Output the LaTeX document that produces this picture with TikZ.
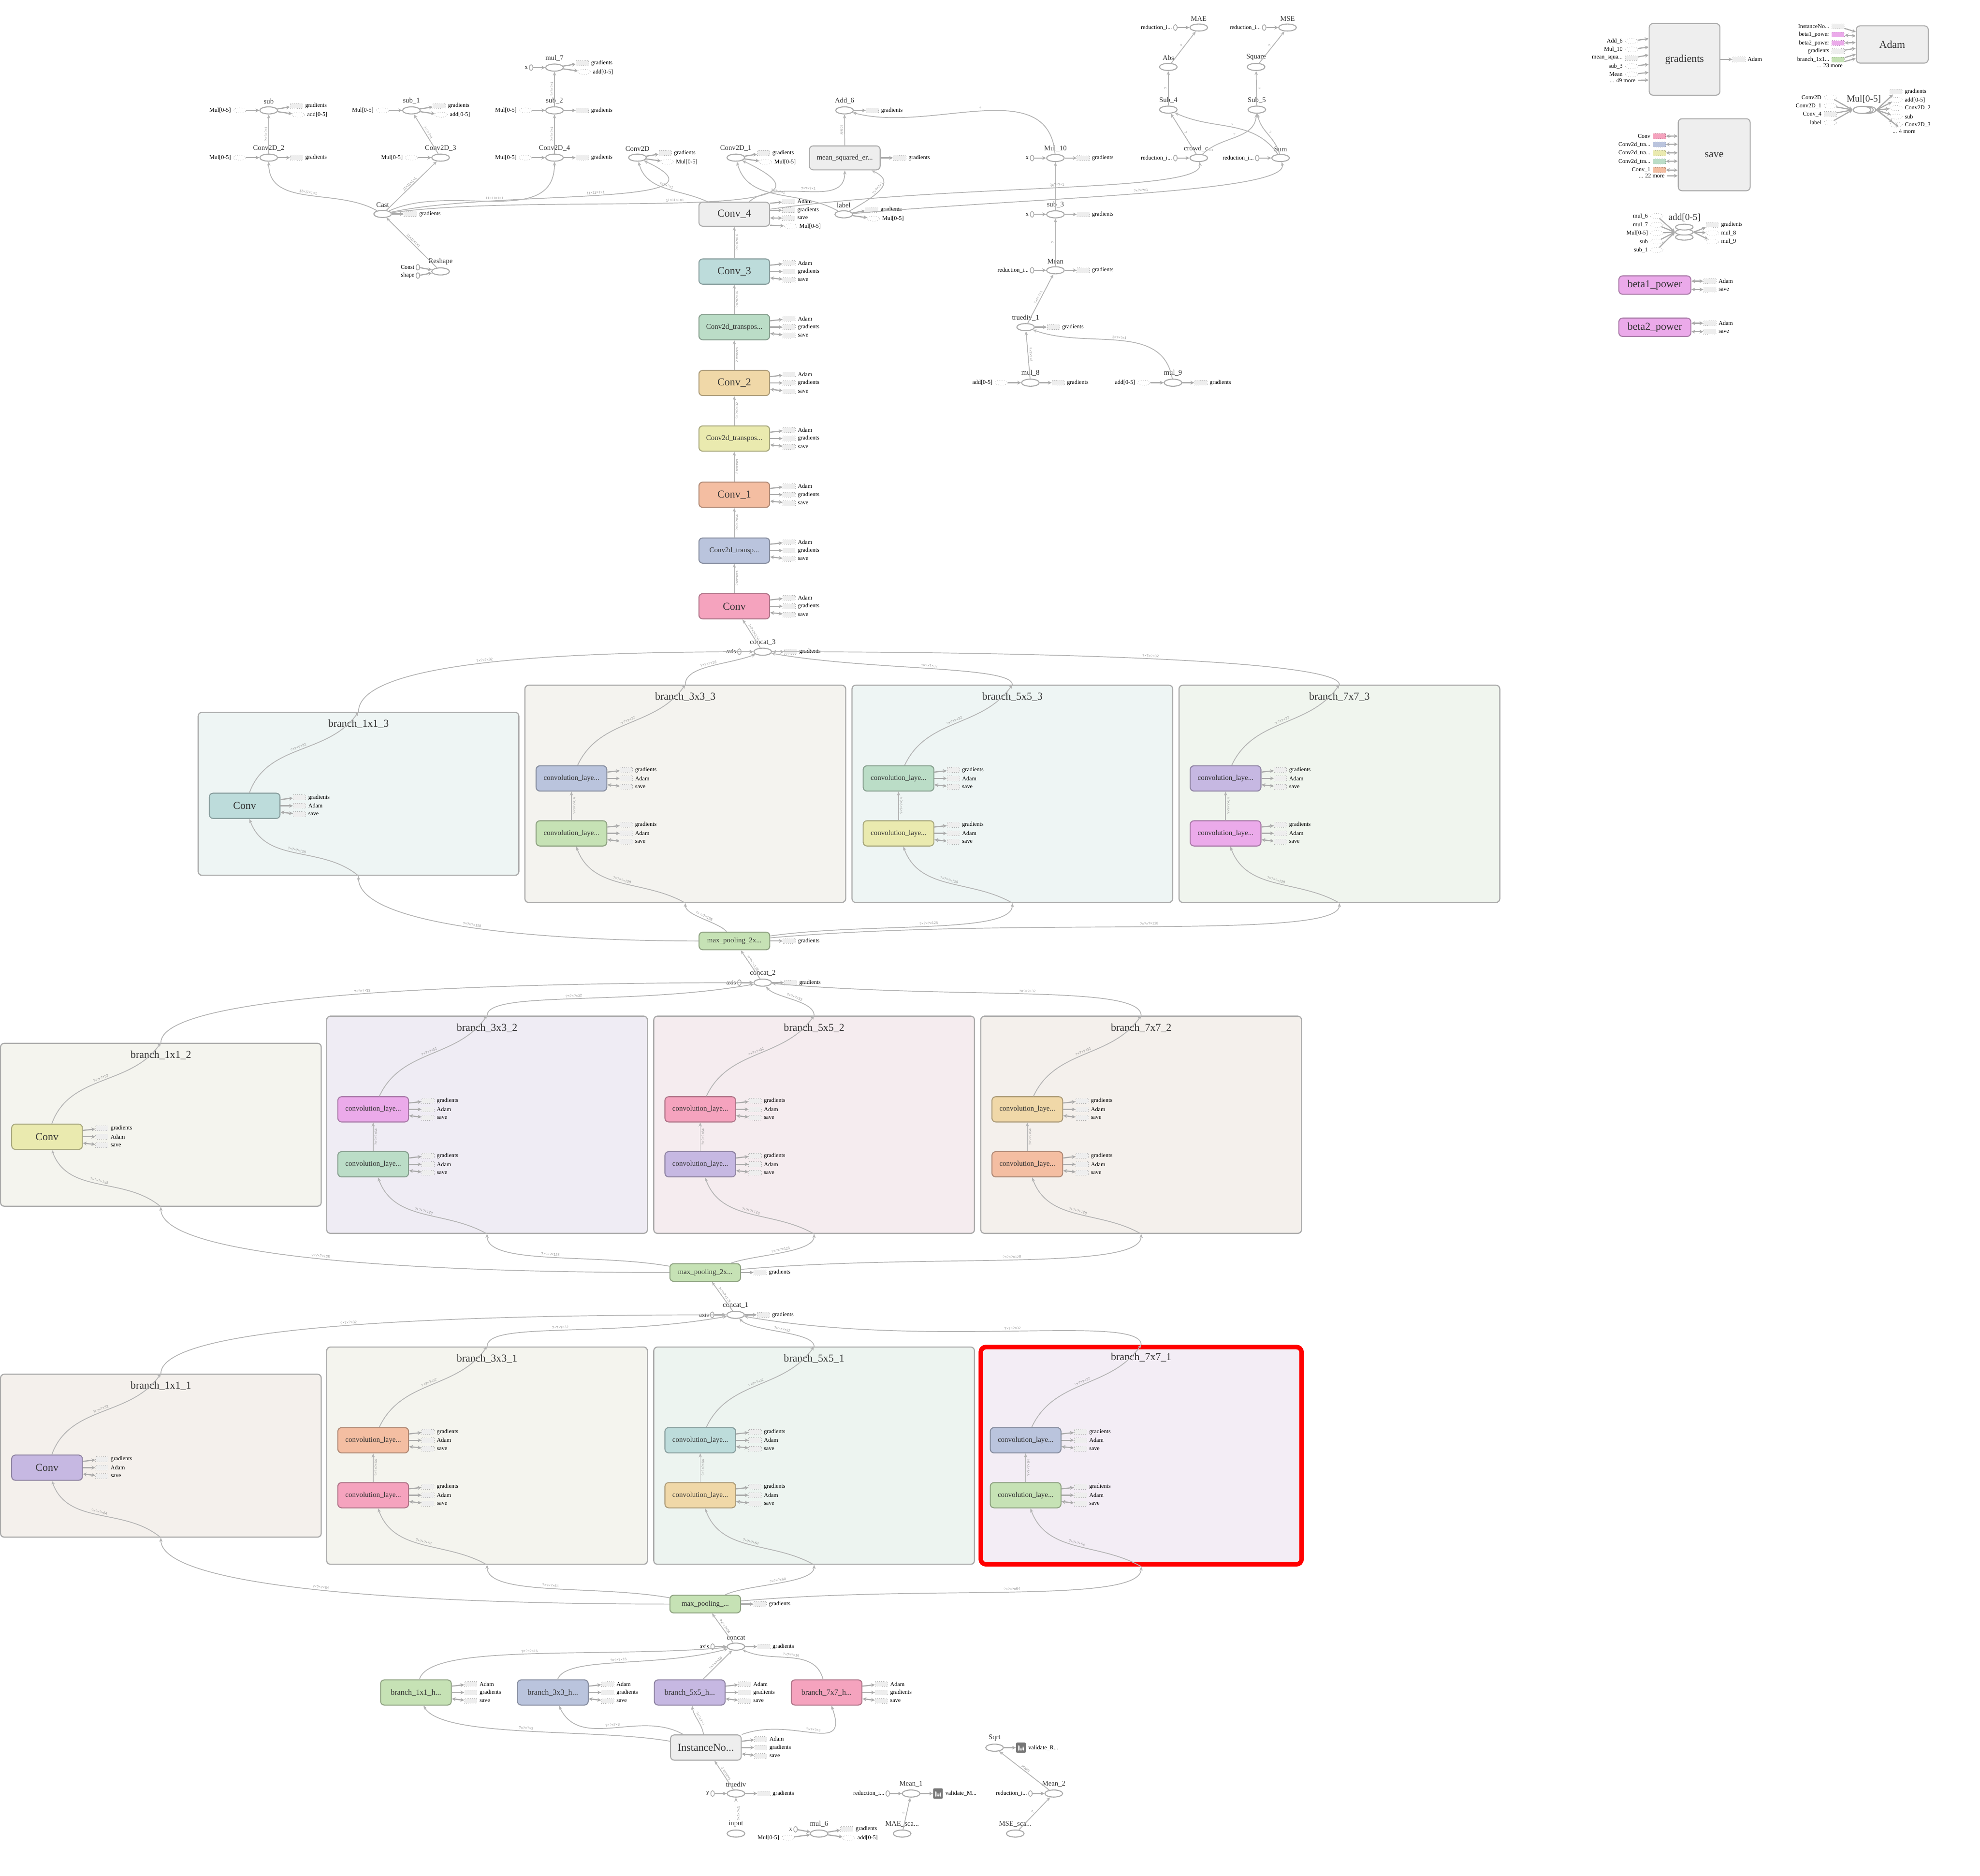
\documentclass[tikz,border=0pt]{standalone}
\usepackage{fontspec}
\setmainfont{Liberation Serif}
\newfontfamily\edgefont{Liberation Sans}
\usepackage{xcolor}
\usepackage{tikz}
\usetikzlibrary{calc,arrows.meta,positioning,shapes.geometric}
\definecolor{txtc}{HTML}{333333}
\definecolor{edgec}{HTML}{B4B4B4}
\definecolor{portc}{HTML}{AAAAAA}
\definecolor{opc}{HTML}{AAAAAA}
\definecolor{stubc}{HTML}{AAAAAA}
\definecolor{stubf}{HTML}{EEEEEE}
\definecolor{elc}{HTML}{999999}
\definecolor{blkc}{HTML}{AAAAAA}
\definecolor{sumc}{HTML}{777777}
\definecolor{grayc}{HTML}{EEEEEE}
\definecolor{tealc}{HTML}{BDDCDB}
\definecolor{mintc}{HTML}{BBDDC7}
\definecolor{tanc}{HTML}{F0D8A8}
\definecolor{yelc}{HTML}{EAEAAF}
\definecolor{salc}{HTML}{F4BEA2}
\definecolor{bluc}{HTML}{BAC4DD}
\definecolor{pinkc}{HTML}{F5A3BE}
\definecolor{grnc}{HTML}{C6E2B5}
\definecolor{purc}{HTML}{C6B8E2}
\definecolor{magc}{HTML}{EBAAEA}
\definecolor{tealt}{HTML}{EEF5F4}
\definecolor{warmt}{HTML}{F4F3EF}
\definecolor{greent}{HTML}{F0F5EE}
\definecolor{beiget}{HTML}{F4F4EE}
\definecolor{lavt}{HTML}{EFECF4}
\definecolor{pinkt}{HTML}{F5ECEF}
\definecolor{peacht}{HTML}{F4F0EC}
\definecolor{mintt}{HTML}{EDF4F0}
\definecolor{lilact}{HTML}{F3EDF5}
\newlength{\tbu}\setlength{\tbu}{0.3185mm}
\newcommand{\fbig}{\fontsize{7.6pt}{8pt}\selectfont}
\newcommand{\fmid}{\fontsize{5.2pt}{6pt}\selectfont}
\newcommand{\fhb}{\fontsize{5.6pt}{6pt}\selectfont}
\newcommand{\fop}{\fontsize{5.1pt}{6pt}\selectfont}
\newcommand{\fsm}{\fontsize{4.2pt}{5pt}\selectfont}
\newcommand{\fgrp}{\fontsize{6.7pt}{7pt}\selectfont}
\newcommand{\fedge}{\edgefont\fontsize{2.6pt}{3pt}\selectfont}
\tikzset{
  ed/.style={draw=edgec,line width=0.65\tbu,-{Stealth[length=1.02mm,width=0.83mm]}},
  ped/.style={draw=portc,line width=0.9\tbu,-{Stealth[length=0.96mm,width=0.96mm]}},
  bped/.style={draw=portc,line width=0.9\tbu,{Stealth[length=0.96mm,width=0.96mm]}-{Stealth[length=0.96mm,width=0.96mm]}},
  dd/.style 2 args={out distance=#1\tbu,in distance=#2\tbu},
  el/.style={font=\fedge,text=elc,sloped,inner sep=0.8\tbu,above},
  op/.style={ellipse,draw=opc,line width=0.8\tbu,fill=white,minimum width=14\tbu,minimum height=5.6\tbu,inner sep=0pt},
  cst/.style={ellipse,draw=opc,line width=0.6\tbu,fill=white,minimum width=2.8\tbu,minimum height=4.6\tbu,inner sep=0pt},
  oplab/.style={font=\fop,text=txtc,inner sep=0.4\tbu,label distance=1.4\tbu},
  plab/.style={font=\fsm,text=black,inner sep=1.6\tbu},
  stub/.style={draw=stubc,densely dotted,fill=stubf,line width=0.35\tbu,minimum width=10\tbu,minimum height=4\tbu,inner sep=0pt},
  cstub/.style={stub,fill=#1,draw=#1!70!black},
  estub/.style={ellipse,draw=stubc,densely dotted,fill=white,line width=0.35\tbu,minimum width=10\tbu,minimum height=4\tbu,inner sep=0pt},
  opbox/.style={draw=#1!72!black,fill=#1,line width=0.8\tbu,rounded corners=3\tbu,minimum width=56\tbu,minimum height=20\tbu,inner sep=0pt,font=\fbig,text=txtc},
  blk/.style={draw=blkc,fill=#1,line width=0.9\tbu,rounded corners=3\tbu,minimum width=254\tbu,inner sep=0pt},
  btitle/.style={font=\fbig,text=txtc,inner sep=0pt},
  sumic/.style={fill=sumc,rounded corners=1\tbu,minimum width=7.7\tbu,minimum height=8.2\tbu,inner sep=0pt,
    path picture={\fill[white] ($(path picture bounding box.south west)+(1.7,-1.6)$) rectangle +(1,-4.4);
      \fill[white] ($(path picture bounding box.south west)+(3.4,-1.6)$) rectangle +(1,-2.4);
      \fill[white] ($(path picture bounding box.south west)+(5.1,-1.6)$) rectangle +(1,-3.3);}}
}
% op with its name above
\newcommand{\opn}[4]{\node[op,label={[oplab]above:{#4}}] (#1) at (#2,#3) {};}
% three ports right of a box
\newcommand{\pthree}[4]{%
  \node[stub,label={[plab]right:{#2}}] (#1-p1) at ($(#1.east)+(15,-6.7)$) {};
  \node[stub,label={[plab]right:{#3}}] (#1-p2) at ($(#1.east)+(15,0)$) {};
  \node[stub,label={[plab]right:{#4}}] (#1-p3) at ($(#1.east)+(15,6.7)$) {};
  \draw[ped] (#1.10) -- (#1-p1);
  \draw[ped] (#1.east) -- (#1-p2);
  \draw[bped] (#1.-10) -- (#1-p3);}
\newcommand{\bout}[2]{%
  \node[stub,label={[plab]right:{#2}}] (#1-g) at ($(#1.east)+(15,0)$) {};
  \draw[ped] (#1.east) -- (#1-g);}
\newcommand{\gout}[2]{%
  \node[stub,label={[plab]right:{#2}}] (#1-g) at ($(#1)+(22,0)$) {};
  \draw[ped] (#1) -- (#1-g);}
\newcommand{\gtwo}[3]{%
  \node[stub,label={[plab]right:{#2}}] (#1-g) at ($(#1)+(22,-3.6)$) {};
  \node[estub,label={[plab]right:{#3}}] (#1-a) at ($(#1)+(23.5,3.4)$) {};
  \draw[ped] (#1) -- (#1-g);
  \draw[ped] (#1) -- (#1-a);}
\newcommand{\cin}[2]{%
  \node[cst,label={[plab,inner sep=0.8\tbu]left:{#2}}] (#1-c) at ($(#1)+(-18.5,0)$) {};
  \draw[ped] (#1-c) -- (#1);}
\newcommand{\din}[2]{%
  \node[estub,label={[plab]left:{#2}}] (#1-d) at ($(#1)+(-23,0)$) {};
  \draw[ped] (#1-d) -- (#1);}
\newcommand{\inp}[8]{%
  \node[#1,label={[plab]left:{#5}}] (#2) at (#3,#4) {};
  \draw[#8] (#2) -- (#6.#7);}
\newcommand{\outp}[6]{%
  \node[#1,label={[plab]right:{#5}}] (#2) at (#3,#4) {};
  \draw[ped] (#6) -- (#2);}
% branch blocks
\newcommand{\tallblk}[5]{%
  \node[blk=#5,minimum height=172\tbu] (#1) at (#3,#4) {};
  \node[btitle] (#1-t) at ($(#1.north)+(0,9.8)$) {#2};}
\newcommand{\shortblk}[5]{%
  \node[blk=#5,minimum height=129\tbu] (#1) at (#3,#4) {};
  \node[btitle] (#1-t) at ($(#1.north)+(0,9.8)$) {#2};}
\newcommand{\twoconv}[4]{%
  \node[opbox=#2,font=\fmid] (#1-u) at ($(#1.west)+(37.3,-12.2)$) {convolution\_laye...};
  \node[opbox=#3,font=\fmid] (#1-l) at ($(#1.west)+(37.3,31.3)$) {convolution\_laye...};
  \pthree{#1-u}{gradients}{Adam}{save}
  \pthree{#1-l}{gradients}{Adam}{save}
  \draw[ed] (#1-l) -- node[el,below]{?×?×?×64} (#1-u);
  \draw[ed] (#1.south) to[out=150,in=-70] node[el]{#4} (#1-l);
  \draw[ed] (#1-u) to[out=65,in=-125] node[el]{?×?×?×32} (#1.north);}
\newcommand{\oneconv}[3]{%
  \node[opbox=#2] (#1-c) at ($(#1.west)+(37.3,9.5)$) {Conv};
  \pthree{#1-c}{gradients}{Adam}{save}
  \draw[ed] (#1.south) to[out=140,in=-70] node[el]{#3} (#1-c);
  \draw[ed] (#1-c) to[out=70,in=-125] node[el]{?×?×?×32} (#1.north);}

\begin{document}
\begin{tikzpicture}[x=0.3185mm,y=-0.3185mm]
\fill[white] (0,0) rectangle (1568,1485);
\useasboundingbox (0,0) rectangle (1568,1485);

% blocks, top row
\shortblk{b113}{branch\_1x1\_3}{283.9}{628.5}{tealt}
\tallblk{b333}{branch\_3x3\_3}{542.7}{628.5}{warmt}
\tallblk{b553}{branch\_5x5\_3}{801.7}{628.5}{tealt}
\tallblk{b773}{branch\_7x7\_3}{1060.7}{628.5}{greent}
\oneconv{b113}{tealc}{?×?×?×128}
\twoconv{b333}{bluc}{grnc}{?×?×?×128}
\twoconv{b553}{mintc}{yelc}{?×?×?×128}
\twoconv{b773}{purc}{magc}{?×?×?×128}
% blocks, middle row
\shortblk{b112}{branch\_1x1\_2}{127.4}{890.5}{beiget}
\tallblk{b332}{branch\_3x3\_2}{385.7}{890.5}{lavt}
\tallblk{b552}{branch\_5x5\_2}{644.7}{890.5}{pinkt}
\tallblk{b772}{branch\_7x7\_2}{903.7}{890.5}{peacht}
\oneconv{b112}{yelc}{?×?×?×128}
\twoconv{b332}{magc}{mintc}{?×?×?×128}
\twoconv{b552}{pinkc}{purc}{?×?×?×128}
\twoconv{b772}{tanc}{salc}{?×?×?×128}
% blocks, bottom row
\shortblk{b111}{branch\_1x1\_1}{127.4}{1152.5}{peacht}
\tallblk{b331}{branch\_3x3\_1}{385.7}{1152.5}{beiget}
\tallblk{b551}{branch\_5x5\_1}{644.7}{1152.5}{mintt}
\node[blk=lilact,minimum height=172\tbu,draw=red,line width=3.6\tbu,rounded corners=4\tbu] (b771) at (903.7,1152.5) {};
\node[btitle] (b771-t) at ($(b771.north)+(0,9.8)$) {branch\_7x7\_1};
\oneconv{b111}{purc}{?×?×?×64}
\twoconv{b331}{salc}{pinkc}{?×?×?×64}
\twoconv{b551}{tealc}{tanc}{?×?×?×64}
\twoconv{b771}{bluc}{grnc}{?×?×?×64}

% concat / pooling spine
\opn{cc3}{604}{516}{concat\_3} \cin{cc3}{axis} \gout{cc3}{gradients}
\node[opbox=grnc,font=\fmid,minimum height=14\tbu] (mp3) at (581.6,745) {max\_pooling\_2x...};
\bout{mp3}{gradients}
\opn{cc2}{604}{778}{concat\_2} \cin{cc2}{axis} \gout{cc2}{gradients}
\node[opbox=grnc,font=\fmid,minimum height=14\tbu] (mp2) at (558.5,1007.5) {max\_pooling\_2x...};
\bout{mp2}{gradients}
\opn{cc1}{582.5}{1041}{concat\_1} \cin{cc1}{axis} \gout{cc1}{gradients}
\node[opbox=grnc,font=\fmid,minimum height=14\tbu] (mp1) at (558.5,1270) {max\_pooling\_...};
\bout{mp1}{gradients}
\opn{cc0}{582.8}{1303.7}{concat} \cin{cc0}{axis} \gout{cc0}{gradients}

\draw[ed] (mp3) to[out=180,in=-90,dd={120}{40}] node[el]{?×?×?×128} (b113.south);
\draw[ed] (mp3) to[out=130,in=-90,dd={10}{10}] node[el]{?×?×?×128} (b333.south);
\draw[ed] (mp3) to[out=8,in=-90,dd={80}{25}] node[el]{?×?×?×128} (b553.south);
\draw[ed] (mp3) to[out=5,in=-90,dd={200}{30}] node[el]{?×?×?×128} (b773.south);
\draw[ed] (b113.north) to[out=90,in=180,dd={40}{150}] node[el]{?×?×?×32} (cc3);
\draw[ed] (b333.north) to[out=90,in=200,dd={15}{25}] node[el]{?×?×?×32} (cc3);
\draw[ed] (b553.north) to[out=90,in=-10,dd={15}{80}] node[el]{?×?×?×32} (cc3);
\draw[ed] (b773.north) to[out=90,in=0,dd={20}{200}] node[el]{?×?×?×32} (cc3);
\draw[ed] (cc2) -- node[el]{?×?×?×128} (mp3);
\draw[ed] (mp2) to[out=180,in=-90,dd={200}{40}] node[el]{?×?×?×128} (b112.south);
\draw[ed] (mp2) to[out=170,in=-90,dd={60}{25}] node[el]{?×?×?×128} (b332.south);
\draw[ed] (mp2) to[out=20,in=-90,dd={20}{15}] node[el]{?×?×?×128} (b552.south);
\draw[ed] (mp2) to[out=5,in=-90,dd={150}{30}] node[el]{?×?×?×128} (b772.south);
\draw[ed] (b112.north) to[out=90,in=180,dd={40}{200}] node[el]{?×?×?×32} (cc2);
\draw[ed] (b332.north) to[out=90,in=190,dd={20}{100}] node[el]{?×?×?×32} (cc2);
\draw[ed] (b552.north) to[out=90,in=-50,dd={12}{12}] node[el]{?×?×?×32} (cc2);
\draw[ed] (b772.north) to[out=90,in=-5,dd={25}{150}] node[el]{?×?×?×32} (cc2);
\draw[ed] (cc1) -- node[el]{?×?×?×128} (mp2);
\draw[ed] (mp1) to[out=180,in=-90,dd={200}{40}] node[el]{?×?×?×64} (b111.south);
\draw[ed] (mp1) to[out=170,in=-90,dd={60}{25}] node[el]{?×?×?×64} (b331.south);
\draw[ed] (mp1) to[out=25,in=-90,dd={20}{15}] node[el]{?×?×?×64} (b551.south);
\draw[ed] (mp1) to[out=5,in=-90,dd={150}{30}] node[el]{?×?×?×64} (b771.south);
\draw[ed] (b111.north) to[out=90,in=180,dd={40}{200}] node[el]{?×?×?×32} (cc1);
\draw[ed] (b331.north) to[out=90,in=190,dd={20}{100}] node[el]{?×?×?×32} (cc1);
\draw[ed] (b551.north) to[out=90,in=-45,dd={12}{15}] node[el]{?×?×?×32} (cc1);
\draw[ed] (b771.north) to[out=90,in=-10,dd={25}{150}] node[el]{?×?×?×32} (cc1);
\draw[ed] (cc0) -- node[el]{?×?×?×64} (mp1);

% decoder column
\node[opbox=pinkc] (conv0) at (581.5,480) {Conv};
\node[opbox=bluc,font=\fmid] (dcv1) at (581.5,435.9) {Conv2d\_transp...};
\node[opbox=salc] (conv1) at (581.5,391.7) {Conv\_1};
\node[opbox=yelc,font=\fmid] (dcv2) at (581.5,347.2) {Conv2d\_transpos...};
\node[opbox=tanc] (conv2) at (581.5,303.2) {Conv\_2};
\node[opbox=mintc,font=\fmid] (dcv3) at (581.5,259) {Conv2d\_transpos...};
\node[opbox=tealc] (conv3) at (581.5,215) {Conv\_3};
\node[opbox=grayc,minimum height=19\tbu] (conv4) at (581.5,169.6) {Conv\_4};
\pthree{conv0}{Adam}{gradients}{save}
\pthree{dcv1}{Adam}{gradients}{save}
\pthree{conv1}{Adam}{gradients}{save}
\pthree{dcv2}{Adam}{gradients}{save}
\pthree{conv2}{Adam}{gradients}{save}
\pthree{dcv3}{Adam}{gradients}{save}
\pthree{conv3}{Adam}{gradients}{save}
\node[stub,label={[plab]right:Adam}] (conv4-p1) at (624.5,159.5) {};
\node[stub,label={[plab]right:gradients}] (conv4-p2) at (624.5,166.4) {};
\node[stub,label={[plab]right:save}] (conv4-p3) at (624.5,172.7) {};
\node[estub,label={[plab]right:{Mul[0-5]}}] (conv4-p4) at (626,179.1) {};
\draw[ped] (conv4.17) -- (conv4-p1);
\draw[ped] (conv4.6) -- (conv4-p2);
\draw[bped] (conv4.-6) -- (conv4-p3);
\draw[ped] (conv4.-17) -- (conv4-p4);
\draw[ed] (cc3) -- node[el]{?×?×?×128} (conv0);
\draw[ed] (conv0) -- node[el,below]{2 tensors} (dcv1);
\draw[ed] (dcv1) -- node[el,below]{?×?×?×64} (conv1);
\draw[ed] (conv1) -- node[el,below]{2 tensors} (dcv2);
\draw[ed] (dcv2) -- node[el,below]{?×?×?×32} (conv2);
\draw[ed] (conv2) -- node[el,below]{2 tensors} (dcv3);
\draw[ed] (dcv3) -- node[el,below]{?×?×?×16} (conv3);
\draw[ed] (conv3) -- node[el,below]{?×?×?×16} (conv4);

% density-map loss ops
\opn{sub0}{212.8}{87.4}{sub} \din{sub0}{Mul[0-5]} \gtwo{sub0}{gradients}{add[0-5]}
\opn{sub1}{325.8}{87.4}{sub\_1} \din{sub1}{Mul[0-5]} \gtwo{sub1}{gradients}{add[0-5]}
\opn{sub2}{439.1}{87.4}{sub\_2} \din{sub2}{Mul[0-5]} \gout{sub2}{gradients}
\opn{mul7}{439.1}{53.5}{mul\_7} \cin{mul7}{x} \gtwo{mul7}{gradients}{add[0-5]}
\opn{cv2d2}{212.8}{124.8}{Conv2D\_2} \din{cv2d2}{Mul[0-5]} \gout{cv2d2}{gradients}
\opn{cv2d3}{348.9}{124.8}{Conv2D\_3} \din{cv2d3}{Mul[0-5]}
\opn{cv2d4}{439.1}{124.8}{Conv2D\_4} \din{cv2d4}{Mul[0-5]} \gout{cv2d4}{gradients}
\opn{cv2d0}{504.8}{124.8}{Conv2D} \gtwo{cv2d0}{gradients}{Mul[0-5]}
\opn{cv2d1}{582.7}{124.8}{Conv2D\_1} \gtwo{cv2d1}{gradients}{Mul[0-5]}
\node[opbox=grayc,font=\fmid,minimum height=19\tbu] (msq) at (669,125) {mean\_squared\_er...};
\bout{msq}{gradients}
\opn{add6}{668.8}{87.4}{Add\_6} \gout{add6}{gradients}
\opn{cast}{303}{169.4}{Cast} \gout{cast}{gradients}
\opn{rshp}{348.9}{214.9}{Reshape}
\node[cst,label={[plab,inner sep=0.8\tbu]left:Const}] (rshp-c1) at (330.9,211.6) {};
\node[cst,label={[plab,inner sep=0.8\tbu]left:shape}] (rshp-c2) at (330.9,218.2) {};
\draw[ped] (rshp-c1) -- (rshp);
\draw[ped] (rshp-c2) -- (rshp);
\opn{lbl}{668.2}{169.7}{label} \gtwo{lbl}{gradients}{Mul[0-5]}
\opn{mul10}{835.8}{125.1}{Mul\_10} \cin{mul10}{x} \gout{mul10}{gradients}
\opn{sub3}{835.8}{169.7}{sub\_3} \cin{sub3}{x} \gout{sub3}{gradients}
\opn{mean0}{835.8}{214}{Mean} \cin{mean0}{reduction\_i...} \gout{mean0}{gradients}
\opn{tdiv1}{812.2}{259}{truediv\_1} \gout{tdiv1}{gradients}
\opn{mul8}{816}{303}{mul\_8} \din{mul8}{add[0-5]} \gout{mul8}{gradients}
\opn{mul9}{928.9}{303}{mul\_9} \din{mul9}{add[0-5]} \gout{mul9}{gradients}
\opn{mae}{949.3}{21.8}{MAE} \cin{mae}{reduction\_i...}
\opn{mset}{1019.6}{21.8}{MSE} \cin{mset}{reduction\_i...}
\opn{abs}{925.2}{53}{Abs}
\opn{sqr}{994.7}{53}{Square}
\opn{sub4}{925.2}{86.8}{Sub\_4}
\opn{sub5}{995.3}{86.8}{Sub\_5}
\opn{crowd}{949.3}{125.1}{crowd\_c...} \cin{crowd}{reduction\_i...}
\opn{sum}{1014.1}{125.1}{Sum} \cin{sum}{reduction\_i...}

\draw[ed] (cv2d2) -- node[el]{?×?×?×1} (sub0);
\draw[ed] (cv2d3) -- node[el]{?×?×?×1} (sub1);
\draw[ed] (cv2d4) -- node[el]{?×?×?×1} (sub2);
\draw[ed] (sub2) -- node[el]{?×?×?×1} (mul7);
\draw[ed] (cast) to[out=150,in=-90] node[el]{11×11×1×1} (cv2d2);
\draw[ed] (cast) -- node[el]{11×11×1×1} (cv2d3);
\draw[ed] (cast) to[out=25,in=-90] node[el]{11×11×1×1} (cv2d4);
\draw[ed] (cast) to[out=12,in=-25,looseness=1.1] node[el]{11×11×1×1} (cv2d0);
\draw[ed] (cast) to[out=8,in=-25,looseness=1.1] node[el]{11×11×1×1} (cv2d1);
\draw[ed] (rshp) -- node[el]{11×11×1×1} (cast);
\draw[ed] (conv4) to[out=155,in=-75] node[el]{?×?×?×1} (cv2d0);
\draw[ed] (lbl) to[out=150,in=-75] node[el]{?×?×?×1} (cv2d1);
\draw[ed] (conv4) to[out=40,in=-90] node[el]{?×?×?×1} (msq);
\draw[ed] (lbl) to[out=30,in=-25,looseness=1.6] node[el]{?×?×?×1} (msq);
\draw[ed] (msq) -- node[el,below]{scalar} (add6);
\draw[ed] (mul10) to[out=95,in=-15] node[el]{?} (add6);
\draw[ed] (sub3) -- node[el]{?} (mul10);
\draw[ed] (mean0) -- node[el]{?} (sub3);
\draw[ed] (tdiv1) -- node[el]{?×?×?×1} (mean0);
\draw[ed] (mul8) to[out=95,in=-85] node[el]{?×?×?×1} (tdiv1);
\draw[ed] (mul9) to[out=100,in=-20] node[el]{1×?×?×1} (tdiv1);
\draw[ed] (conv4) to[out=8,in=-80,dd={150}{25}] node[el]{?×?×?×1} (crowd);
\draw[ed] (lbl) to[out=5,in=-75,dd={150}{25}] node[el]{?×?×?×1} (sum);
\draw[ed] (crowd) -- node[el]{?} (sub4);
\draw[ed] (sum) to[out=125,in=-25] node[el]{?} (sub4);
\draw[ed] (crowd) to[out=45,in=-95] node[el]{?} (sub5);
\draw[ed] (sum) to[out=105,in=-80] node[el]{?} (sub5);
\draw[ed] (sub4) -- node[el]{?} (abs);
\draw[ed] (abs) -- node[el]{?} (mae);
\draw[ed] (sub5) -- node[el]{?} (sqr);
\draw[ed] (sqr) -- node[el]{?} (mset);

% input side
\node[opbox=grnc,font=\fhb] (bh1) at (329.4,1340) {branch\_1x1\_h...};
\node[opbox=bluc,font=\fhb] (bh3) at (437.8,1340) {branch\_3x3\_h...};
\node[opbox=purc,font=\fhb] (bh5) at (546.2,1340) {branch\_5x5\_h...};
\node[opbox=pinkc,font=\fhb] (bh7) at (654.6,1340) {branch\_7x7\_h...};
\pthree{bh1}{Adam}{gradients}{save}
\pthree{bh3}{Adam}{gradients}{save}
\pthree{bh5}{Adam}{gradients}{save}
\pthree{bh7}{Adam}{gradients}{save}
\node[opbox=grayc] (inorm) at (559,1383.6) {InstanceNo...};
\pthree{inorm}{Adam}{gradients}{save}
\opn{tdiv0}{582.8}{1420}{truediv} \cin{tdiv0}{y} \gout{tdiv0}{gradients}
\opn{inp0}{582.8}{1451.7}{input}
\opn{mul6}{648.6}{1451.7}{mul\_6} \gtwo{mul6}{gradients}{add[0-5]}
\node[cst,label={[plab,inner sep=0.8\tbu]left:x}] (mul6-c) at (630,1448.3) {};
\node[estub,label={[plab]left:{Mul[0-5]}}] (mul6-d) at (624,1455) {};
\draw[ped] (mul6-c) -- (mul6);
\draw[ped] (mul6-d) -- (mul6);
\opn{mean1}{721.5}{1420}{Mean\_1} \cin{mean1}{reduction\_i...}
\node[sumic,label={[plab]right:validate\_M...}] (mean1-s) at (742.8,1420) {};
\draw[ped] (mean1) -- (mean1-s);
\opn{maesc}{714.4}{1451.7}{MAE\_sca...}
\opn{sqrt}{787.6}{1383.7}{Sqrt}
\node[sumic,label={[plab]right:validate\_R...}] (sqrt-s) at (808.5,1383.7) {};
\draw[ped] (sqrt) -- (sqrt-s);
\opn{mean2}{834.5}{1420}{Mean\_2} \cin{mean2}{reduction\_i...}
\opn{msesc}{804}{1451.7}{MSE\_sca...}

\draw[ed] (inorm) to[out=170,in=-60,dd={60}{30}] node[el]{?×?×?×3} (bh1);
\draw[ed] (inorm) to[out=150,in=-65] node[el]{?×?×?×3} (bh3);
\draw[ed] (inorm) to[out=100,in=-80] node[el]{?×?×?×3} (bh5);
\draw[ed] (inorm) to[out=20,in=-70,looseness=1.5] node[el]{?×?×?×3} (bh7);
\draw[ed] (bh1) to[out=75,in=185,dd={30}{100}] node[el]{?×?×?×16} (cc0);
\draw[ed] (bh3) to[out=70,in=195,dd={20}{60}] node[el]{?×?×?×16} (cc0);
\draw[ed] (bh5) -- node[el]{?×?×?×16} (cc0);
\draw[ed] (bh7) to[out=105,in=-25] node[el]{?×?×?×16} (cc0);
\draw[ed] (tdiv0) -- node[el]{3 tensors} (inorm);
\draw[ed] (inp0) -- node[el,below]{?×?×?×3} (tdiv0);
\draw[ed] (maesc) -- node[el]{?} (mean1);
\draw[ed] (msesc) -- node[el]{?} (mean2);
\draw[ed] (mean2) -- node[el]{scalar} (sqrt);

% side panel: gradients, save, Adam
\node[opbox=grayc,minimum height=56.7\tbu] (gbox) at (1334,47) {gradients};
\inp{estub}{g1}{1292}{32.5}{Add\_6}{gbox}{150}{ped}
\inp{estub}{g2}{1292}{39.1}{Mul\_10}{gbox}{161}{ped}
\inp{stub}{g3}{1292}{46}{mean\_squa...}{gbox}{173}{ped}
\inp{estub}{g4}{1292}{52.4}{sub\_3}{gbox}{188}{ped}
\inp{estub}{g5}{1292}{58.9}{Mean}{gbox}{200}{ped}
\node[plab,anchor=east] (g6) at (1297,63.8) {... 49 more};
\draw[ped] (g6) -- (gbox.210);
\node[stub,label={[plab]right:Adam}] (g7) at (1377,47) {};
\draw[ped] (gbox) -- (g7);

\node[opbox=grayc,minimum width=57\tbu,minimum height=57\tbu] (sbox) at (1357.5,122.5) {save};
\inp{cstub=pinkc}{s1}{1314}{107.8}{Conv}{sbox}{153}{bped}
\inp{cstub=bluc}{s2}{1314}{114.4}{Conv2d\_tra...}{sbox}{164}{bped}
\inp{cstub=yelc}{s3}{1314}{121.1}{Conv2d\_tra...}{sbox}{177}{bped}
\inp{cstub=mintc}{s4}{1314}{127.8}{Conv2d\_tra...}{sbox}{190}{bped}
\inp{cstub=salc}{s5}{1314}{134.5}{Conv\_1}{sbox}{203}{bped}
\node[plab,anchor=east] (s6) at (1320,139.2) {... 22 more};
\draw[ped] (s6) -- (sbox.210);

\node[opbox=grayc,minimum width=57\tbu,minimum height=29.5\tbu] (abox) at (1498.5,35.2) {Adam};
\inp{stub}{a1}{1455.6}{20.9}{InstanceNo...}{abox}{161}{ped}
\inp{cstub=magc}{a2}{1455.6}{27.4}{beta1\_power}{abox}{167}{bped}
\inp{cstub=magc}{a3}{1455.6}{34.1}{beta2\_power}{abox}{177}{bped}
\inp{stub}{a4}{1455.6}{40.6}{gradients}{abox}{186}{ped}
\inp{cstub=grnc}{a5}{1455.6}{47.2}{branch\_1x1...}{abox}{195}{ped}
\node[plab,anchor=east] (a6) at (1461,51.9) {... 23 more};
\draw[ped] (a6) -- (abox.201);

% grouped Mul ops
\node[op] (mulg-b2) at (1478.6,87) {};
\node[op] (mulg-b1) at (1476.5,87) {};
\node[op] (mulg) at (1474.5,87) {};
\node[font=\fgrp,text=txtc,inner sep=0pt] (mulg-t) at (1476,78.6) {Mul[0-5]};
\inp{estub}{m1}{1449.4}{77.1}{Conv2D}{mulg}{west}{ped}
\inp{estub}{m2}{1449.4}{83.8}{Conv2D\_1}{mulg}{west}{ped}
\inp{stub}{m3}{1449.4}{90.3}{Conv\_4}{mulg}{west}{ped}
\inp{estub}{m4}{1449.4}{97.1}{label}{mulg}{west}{ped}
\outp{stub}{m5}{1501.5}{72.6}{gradients}{mulg-b2.east}
\outp{estub}{m6}{1501.5}{79.1}{add[0-5]}{mulg-b2.east}
\outp{estub}{m7}{1501.5}{85.6}{Conv2D\_2}{mulg-b2.east}
\outp{estub}{m8}{1501.5}{92.3}{sub}{mulg-b2.east}
\outp{estub}{m9}{1501.5}{98.7}{Conv2D\_3}{mulg-b2.east}
\node[plab,anchor=west] (m10) at (1497,103.8) {... 4 more};
\draw[ped] (mulg-b2.east) -- (m10);

% grouped add ops
\node[op,minimum height=4.6\tbu] (addg-3) at (1333.8,187.8) {};
\node[op,minimum height=4.6\tbu] (addg-2) at (1333.8,183.8) {};
\node[op,minimum height=4.6\tbu] (addg) at (1333.8,179.8) {};
\node[font=\fgrp,text=txtc,inner sep=0pt] (addg-t) at (1334,172.2) {add[0-5]};
\inp{estub}{ad1}{1312}{171}{mul\_6}{addg-2}{west}{ped}
\inp{estub}{ad2}{1312}{178}{mul\_7}{addg-2}{west}{ped}
\inp{estub}{ad3}{1312}{184.5}{Mul[0-5]}{addg-2}{west}{ped}
\inp{estub}{ad4}{1312}{191.2}{sub}{addg-2}{west}{ped}
\inp{estub}{ad5}{1312}{197.9}{sub\_1}{addg-2}{west}{ped}
\outp{stub}{ad6}{1356}{178}{gradients}{addg-2.east}
\outp{estub}{ad7}{1356}{184.5}{mul\_8}{addg-2.east}
\outp{estub}{ad8}{1356}{191.2}{mul\_9}{addg-2.east}

% beta powers
\node[opbox=magc,minimum width=57\tbu,minimum height=14.6\tbu] (bp1) at (1310.5,225.7) {beta1\_power};
\node[stub,label={[plab]right:Adam}] (bp1-a) at (1354,222.6) {};
\node[stub,label={[plab]right:save}] (bp1-s) at (1354,229.2) {};
\draw[bped] (bp1.east |- bp1-a) -- (bp1-a);
\draw[bped] (bp1.east |- bp1-s) -- (bp1-s);
\node[opbox=magc,minimum width=57\tbu,minimum height=14.6\tbu] (bp2) at (1310.5,259.1) {beta2\_power};
\node[stub,label={[plab]right:Adam}] (bp2-a) at (1354,255.9) {};
\node[stub,label={[plab]right:save}] (bp2-s) at (1354,262.6) {};
\draw[bped] (bp2.east |- bp2-a) -- (bp2-a);
\draw[bped] (bp2.east |- bp2-s) -- (bp2-s);
\end{tikzpicture}
\end{document}
